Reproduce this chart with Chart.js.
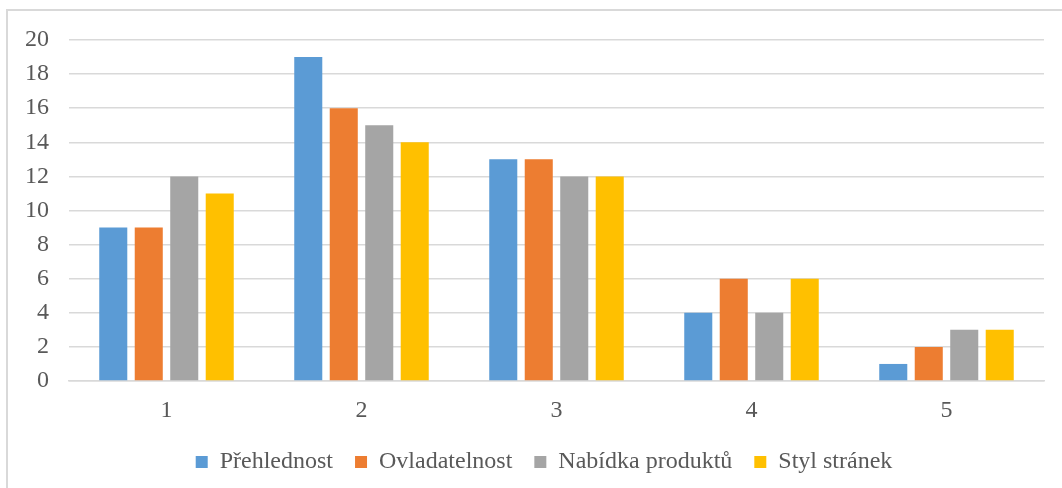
<!DOCTYPE html>
<html>
<head>
<meta charset="utf-8">
<script src="https://cdn.jsdelivr.net/npm/chart.js@4.4.1/dist/chart.umd.min.js"></script>
<style>
  html, body { margin: 0; padding: 0; background: #ffffff; }
  #wrap { position: relative; width: 1062px; height: 488px; overflow: hidden; }
  #frame { position: absolute; left: 6px; top: 9px; width: 1100px; height: 520px;
           border-left: 2px solid #d9d9d9; border-top: 2px solid #d9d9d9; box-sizing: border-box; }
  canvas { position: absolute; left: 0; top: 0; }
</style>
</head>
<body>
<div id="wrap">
  <div id="frame"></div>
  <canvas id="chart" width="1062" height="488"></canvas>
</div>
<script>
// Rating categories (1 = best … 5 = worst) and the count of answers per criterion
const categories = ['1', '2', '3', '4', '5'];
const prehlednost = [9, 19, 13, 4, 1];
const ovladatelnost = [9, 16, 13, 6, 2];
const nabidkaProduktu = [12, 15, 12, 4, 3];
const stylStranek = [11, 14, 12, 6, 3];
const seriesNames = ['Přehlednost', 'Ovladatelnost', 'Nabídka produktů', 'Styl stránek'];
const seriesColors = ['#5B9BD5', '#ED7D31', '#A5A5A5', '#FFC000'];
const yTicks = [0, 2, 4, 6, 8, 10, 12, 14, 16, 18, 20];

const seriesValues = [prehlednost, ovladatelnost, nabidkaProduktu, stylStranek];
const FONT = "'Liberation Serif', 'Times New Roman', serif";
const TEXT = '#595959';
const GRID = '#d9d9d9';

// Nudge the legend row a little to the right of the canvas centre
const legendShift = {
  id: 'legendShift',
  afterLayout(chart) {
    const lg = chart.legend;
    if (lg) { lg.left += 22; lg.right += 22; }
  }
};

new Chart(document.getElementById('chart'), {
  type: 'bar',
  data: {
    labels: categories,
    datasets: seriesValues.map((vals, i) => ({
      label: seriesNames[i],
      data: vals,
      backgroundColor: seriesColors[i],
      borderWidth: 0,
      categoryPercentage: 0.728,
      barPercentage: 0.79
    }))
  },
  plugins: [legendShift],
  options: {
    responsive: false,
    animation: false,
    devicePixelRatio: 1,
    layout: { padding: { left: 0, right: 18, top: 40, bottom: 4 } },
    plugins: {
      tooltip: { enabled: false },
      legend: {
        position: 'bottom',
        labels: {
          boxWidth: 12,
          boxHeight: 12,
          padding: 22,
          color: TEXT,
          font: { family: FONT, size: 24 }
        }
      }
    },
    scales: {
      x: {
        grid: { display: false, drawTicks: false },
        border: { display: true, color: GRID, width: 1.5 },
        ticks: { color: TEXT, font: { family: FONT, size: 24 }, padding: 15 },
        afterFit: (s) => { s.height = 47; }
      },
      y: {
        min: 0,
        max: 20,
        afterBuildTicks: (s) => { s.ticks = yTicks.map(v => ({ value: v })); },
        grid: { color: GRID, lineWidth: 1.5, drawTicks: false },
        border: { display: false },
        ticks: { color: TEXT, font: { family: FONT, size: 24 }, padding: 20 },
        afterFit: (s) => { s.width = 69; }
      }
    }
  }
});
</script>
</body>
</html>
